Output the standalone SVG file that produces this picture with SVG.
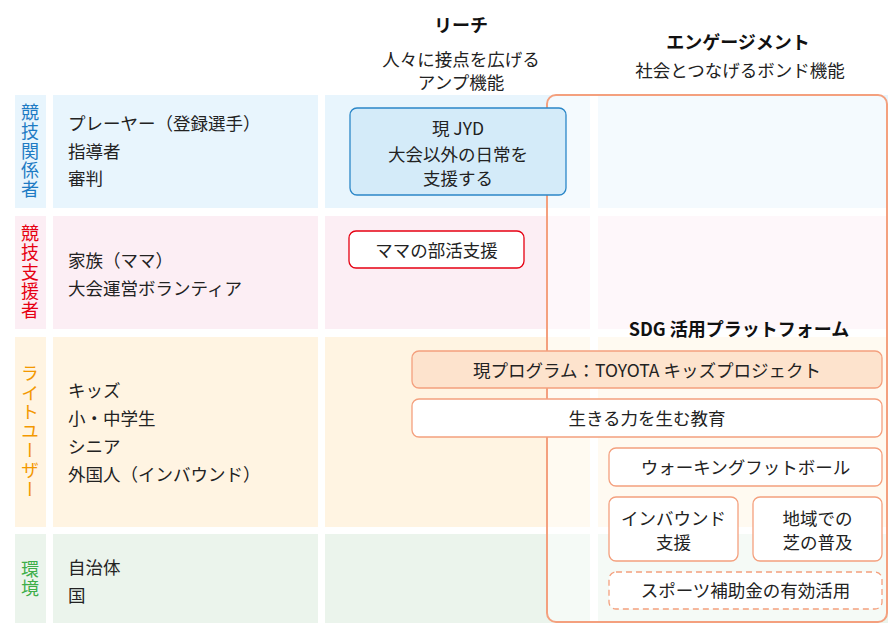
<svg xmlns="http://www.w3.org/2000/svg" width="888" height="623" viewBox="0 0 888 623">
<style>
text{font-family:"Noto Sans CJK JP","Noto Sans",sans-serif;fill:#222;}
.t{font-size:17.5px;dominant-baseline:central;}
.c{text-anchor:middle;}
.h{font-size:18px;font-weight:bold;text-anchor:middle;dominant-baseline:central;fill:#111;}
.v{font-size:18px;writing-mode:vertical-rl;text-anchor:middle;letter-spacing:1.3px;}
.box{stroke-width:1.3;}
.ob{fill:#fff;stroke:#F4A07E;stroke-width:1.3;}
</style>
<rect width="888" height="623" fill="#fff"/>
<g id="backgrounds">
<rect x="15" y="95" width="31" height="113" fill="#E8F5FD"/>
<rect x="53" y="95" width="265" height="113" fill="#E8F5FD"/>
<rect x="325" y="95" width="265" height="113" fill="#E8F5FD"/>
<rect x="598" y="95" width="290" height="113" fill="#E8F5FD"/>
<rect x="15" y="216" width="31" height="113" fill="#FCEEF4"/>
<rect x="53" y="216" width="265" height="113" fill="#FCEEF4"/>
<rect x="325" y="216" width="265" height="113" fill="#FCEEF4"/>
<rect x="598" y="216" width="290" height="113" fill="#FCEEF4"/>
<rect x="15" y="337" width="31" height="190" fill="#FFF4E2"/>
<rect x="53" y="337" width="265" height="190" fill="#FFF4E2"/>
<rect x="325" y="337" width="265" height="190" fill="#FFF4E2"/>
<rect x="598" y="337" width="290" height="190" fill="#FFF4E2"/>
<rect x="15" y="534" width="31" height="89" fill="#EBF4EC"/>
<rect x="53" y="534" width="265" height="89" fill="#EBF4EC"/>
<rect x="325" y="534" width="265" height="89" fill="#EBF4EC"/>
<rect x="598" y="534" width="290" height="89" fill="#EBF4EC"/>
</g>
<g id="headers">
<text class="h" x="461" y="24">リーチ</text>
<text class="t c" x="461" y="58">人々に接点を広げる</text>
<text class="t c" x="461" y="81">アンプ機能</text>
<text class="h" x="738" y="41">エンゲージメント</text>
<text class="t c" x="740" y="69">社会とつなげるボンド機能</text>
</g>
<g id="row-labels">
<text class="v" x="30" y="151.5" style="fill:#1E7BC4">競技関係者</text>
<text class="v" x="30" y="272.5" style="fill:#E60012">競技支援者</text>
<text class="v" x="30" y="432" style="fill:#F39800">ライトユーザー</text>
<text class="v" x="30" y="579" style="fill:#3DAE49">環境</text>
</g>
<g id="members">
<text class="t" x="68" y="122">プレーヤー（登録選手）</text>
<text class="t" x="68" y="150">指導者</text>
<text class="t" x="68" y="177">審判</text>
<text class="t" x="68" y="259">家族（ママ）</text>
<text class="t" x="68" y="287">大会運営ボランティア</text>
<text class="t" x="68" y="389">キッズ</text>
<text class="t" x="68" y="417">小・中学生</text>
<text class="t" x="68" y="445">シニア</text>
<text class="t" x="68" y="473">外国人（インバウンド）</text>
<text class="t" x="68" y="566">自治体</text>
<text class="t" x="68" y="594">国</text>
</g>
<g id="engagement-frame">
<rect x="547" y="95" width="340" height="527" rx="9" fill="#fff" fill-opacity="0.5" stroke="#F4A07E" stroke-width="2"/>
<text class="h" x="739" y="328">SDG 活用プラットフォーム</text>
</g>
<g id="jyd">
<rect x="350" y="108" width="216" height="87" rx="7" fill="#D4EBF9" stroke="#2B87C8" class="box"/>
<text class="t c" x="458" y="127">現 JYD</text>
<text class="t c" x="458" y="153">大会以外の日常を</text>
<text class="t c" x="458" y="177">支援する</text>
</g>
<g id="mama">
<rect x="349" y="231" width="175" height="37" rx="7" fill="#fff" stroke="#E60012" class="box"/>
<text class="t c" x="436.5" y="249">ママの部活支援</text>
</g>
<g id="toyota">
<rect x="412" y="351" width="470" height="37" rx="7" fill="#FDE3CD" stroke="#F4A07E" class="box"/>
<text class="t c" x="647" y="369">現プログラム：TOYOTA キッズプロジェクト</text>
</g>
<g id="ikiru">
<rect x="412" y="399" width="470" height="38" rx="7" class="ob"/>
<text class="t c" x="647" y="417">生きる力を生む教育</text>
</g>
<g id="walking">
<rect x="609" y="448" width="273" height="38" rx="7" class="ob"/>
<text class="t c" x="745.5" y="466">ウォーキングフットボール</text>
</g>
<g id="inbound">
<rect x="609" y="497" width="129" height="64" rx="7" class="ob"/>
<text class="t c" x="673.5" y="517">インバウンド</text>
<text class="t c" x="673.5" y="541">支援</text>
</g>
<g id="shiba">
<rect x="753" y="497" width="129" height="64" rx="7" class="ob"/>
<text class="t c" x="817.5" y="517">地域での</text>
<text class="t c" x="817.5" y="541">芝の普及</text>
</g>
<g id="hojokin">
<rect x="609" y="572" width="273" height="37" rx="7" class="ob" stroke-dasharray="6 4"/>
<text class="t c" x="745.5" y="589">スポーツ補助金の有効活用</text>
</g>
<g id="connectors"></g>
</svg>
